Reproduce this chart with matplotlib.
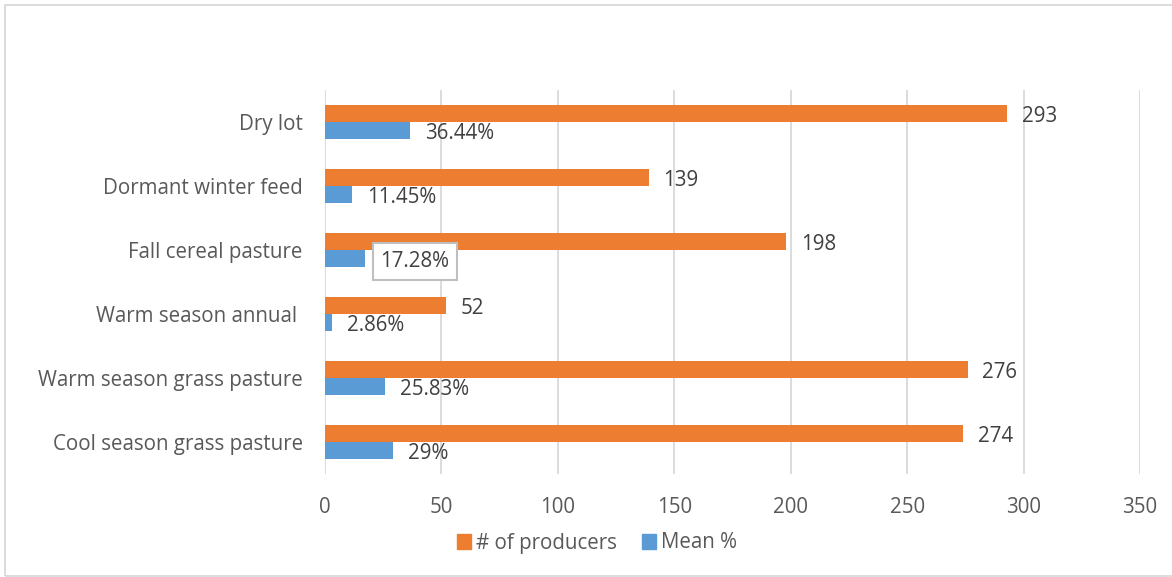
import matplotlib
matplotlib.use("Agg")
import matplotlib.pyplot as plt
from matplotlib.patches import Rectangle
import numpy as np

plt.rcParams['font.family'] = ['Open Sans', 'DejaVu Sans']

categories = ["Cool season grass pasture", "Warm season grass pasture",
              "Warm season annual ", "Fall cereal pasture",
              "Dormant winter feed", "Dry lot"]
producers = [274, 276, 52, 198, 139, 293]
mean_pct = [29, 25.83, 2.86, 17.28, 11.45, 36.44]
mean_labels = ["29%", "25.83%", "2.86%", "17.28%", "11.45%", "36.44%"]
xticks = [0, 50, 100, 150, 200, 250, 300, 350]

ORANGE = "#ED7D31"
BLUE = "#5B9BD5"
TEXT = "#595959"
VALUE = "#404040"
GRID = "#D9D9D9"
FS = 14.8

fig = plt.figure(figsize=(11.72, 5.77), dpi=100)
ax = fig.add_axes([325 / 1172, 1 - 474 / 577, 815 / 1172, 384 / 577])

y = np.arange(len(categories))
h = 0.266
ax.barh(y + h / 2, producers, height=h, color=ORANGE, zorder=3)
ax.barh(y - h / 2, mean_pct, height=h, color=BLUE, zorder=3)

for yi, v in zip(y, producers):
    ax.annotate(str(v), (v, yi + h / 2), xytext=(10.5, -2), textcoords="offset points",
                va="center", ha="left", fontsize=FS, color=VALUE)
for yi, v, lab in zip(y, mean_pct, mean_labels):
    kw = {}
    if lab == "17.28%":
        kw["bbox"] = dict(boxstyle="square,pad=0.38", fc="white", ec="#BFBFBF", lw=1.5)
    ax.annotate(lab, (v, yi - h / 2), xytext=(11, -2), textcoords="offset points",
                va="center", ha="left", fontsize=FS, color=VALUE, zorder=5, **kw)

ax.set_xlim(0, 350)
ax.set_ylim(-0.5, len(categories) - 0.5)
ax.set_xticks(xticks)
ax.set_xticklabels([str(t) for t in xticks])
ax.set_yticks(y)
ax.set_yticklabels(categories)
ax.tick_params(axis="both", length=0, labelsize=FS, labelcolor=TEXT)
ax.tick_params(axis="x", pad=16.5)
ax.tick_params(axis="y", pad=16)
ax.xaxis.grid(True, color=GRID, lw=1.3, zorder=0)
ax.set_axisbelow(True)
for s in ax.spines.values():
    s.set_visible(False)

handles = [Rectangle((0, 0), 1, 1, color=ORANGE), Rectangle((0, 0), 1, 1, color=BLUE)]
fig.legend(handles, ["# of producers", "Mean %"], loc="center",
           bbox_to_anchor=(597 / 1172, 1 - 543 / 577), ncol=2, frameon=False,
           fontsize=FS, labelcolor=TEXT, handlelength=0.7, handleheight=0.7,
           handletextpad=0.25, columnspacing=1.2)

fig.add_artist(Rectangle((5 / 1172, 1 / 577), 1, 1 - 6 / 577, transform=fig.transFigure,
                         fill=False, ec="#D9D9D9", lw=1.3))

fig.savefig("out.png", dpi=100, facecolor="white")
